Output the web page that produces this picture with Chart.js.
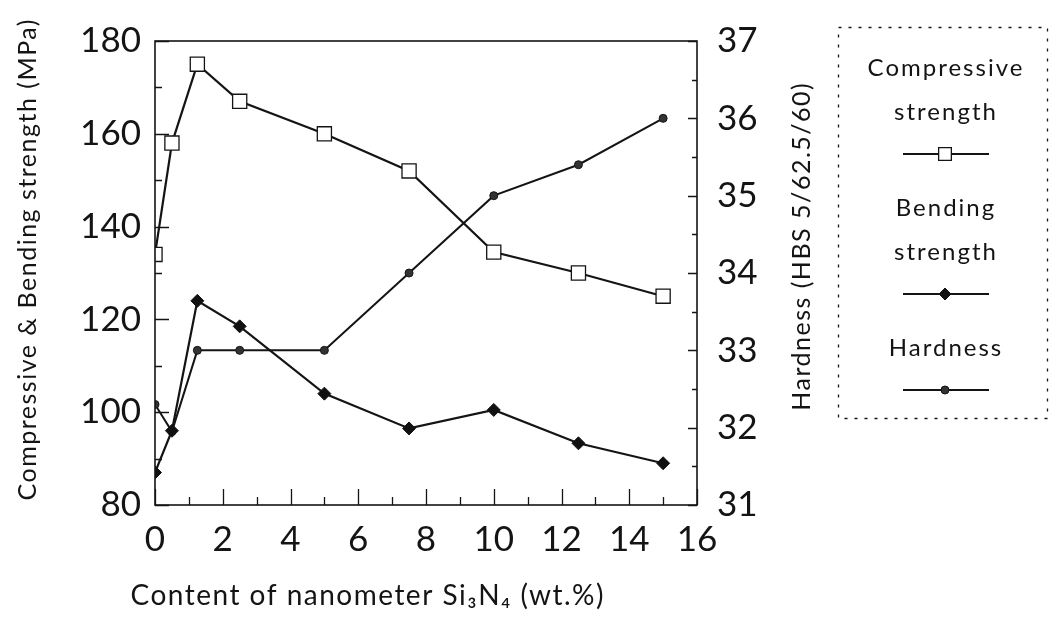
<!DOCTYPE html>
<html>
<head>
<meta charset="utf-8">
<script src="https://cdn.jsdelivr.net/npm/chart.js@4.4.0/dist/chart.umd.min.js"></script>
<style>
  html, body { margin: 0; padding: 0; background: #fff; }
  #wrap { width: 1050px; height: 628px; }
</style>
</head>
<body>
<div id="wrap"><canvas id="chart" width="1050" height="628"></canvas></div>
<script>
// Si3N4 content (wt.%) and measured properties
const contents = [0, 0.5, 1.25, 2.5, 5, 7.5, 10, 12.5, 15];
const compressive = [134, 158, 175, 167, 160, 152, 134.5, 130, 125];
const bending = [87, 96, 124, 118.5, 104, 96.5, 100.5, 93.3, 89];
const hardness = [32.3, 31.95, 33, 33, 33, 34, 35, 35.4, 36];

// labelled ticks; the others are drawn as minor ticks
const strengthLabels = [80, 100, 120, 140, 160, 180];
const hardnessLabels = [31, 32, 33, 34, 35, 36, 37];
const contentLabels = [0, 2, 4, 6, 8, 10, 12, 14, 16];

const seriesNames = ['Compressive strength', 'Bending strength', 'Hardness'];

const INK = '#141414';
const FONT = 'Lato, "Open Sans", sans-serif';

function points(ys) {
  return contents.map((x, i) => ({ x, y: ys[i] }));
}

function labelIf(list) {
  return (v) => (list.includes(v) ? String(v) : '');
}

function spacedText(ctx, text, x, y, spacing) {
  ctx.letterSpacing = spacing + 'px';
  // trailing spacing shifts centred text, take it back
  ctx.fillText(text, x + spacing / 2, y);
  ctx.letterSpacing = '0px';
}

// frame, inward ticks, axis titles and the dashed legend box
const decorations = {
  id: 'decorations',
  afterDraw(chart) {
    const ctx = chart.ctx;
    const a = chart.chartArea;
    const sx = chart.scales.x, sy = chart.scales.y, sy1 = chart.scales.y1;
    const midY = (a.top + a.bottom) / 2;
    ctx.save();
    ctx.strokeStyle = INK;
    ctx.lineWidth = 1.6;
    ctx.strokeRect(a.left, a.top, a.right - a.left, a.bottom - a.top);

    ctx.lineWidth = 1.3;
    ctx.beginPath();
    sy.ticks.forEach(t => {
      const p = Math.round(sy.getPixelForValue(t.value)) + 0.5;
      const len = strengthLabels.includes(t.value) ? 14 : 7;
      ctx.moveTo(a.left, p); ctx.lineTo(a.left + len, p);
    });
    sy1.ticks.forEach(t => {
      const p = Math.round(sy1.getPixelForValue(t.value)) + 0.5;
      const len = hardnessLabels.includes(t.value) ? 9 : 5;
      ctx.moveTo(a.right, p); ctx.lineTo(a.right - len, p);
    });
    sx.ticks.forEach(t => {
      const p = Math.round(sx.getPixelForValue(t.value)) + 0.5;
      const len = contentLabels.includes(t.value) ? 16 : 8;
      ctx.moveTo(p, a.bottom); ctx.lineTo(p, a.bottom - len);
    });
    ctx.stroke();

    ctx.fillStyle = INK;
    ctx.textAlign = 'center';
    ctx.textBaseline = 'middle';

    // x axis title
    ctx.font = '28px ' + FONT;
    spacedText(ctx, 'Content of nanometer Si\u2083N\u2084 (wt.%)', 367, 596, 1.5);

    // y axis titles, both reading bottom to top
    ctx.font = '25px ' + FONT;
    ctx.save();
    ctx.translate(28, 260);
    ctx.rotate(-Math.PI / 2);
    spacedText(ctx, 'Compressive & Bending strength (MPa)', 0, 0, 1.5);
    ctx.restore();

    ctx.save();
    ctx.translate(802, 247);
    ctx.rotate(-Math.PI / 2);
    spacedText(ctx, 'Hardness (HBS 5/62.5/60)', 0, 0, 1.5);
    ctx.restore();

    // legend
    ctx.save();
    ctx.lineWidth = 1.3;
    ctx.setLineDash([3, 7]);
    ctx.strokeRect(838.5, 27.5, 209, 391);
    ctx.restore();

    const cx = 945;
    let y = 68;
    ctx.font = '24px ' + FONT;
    chart.data.datasets.forEach(ds => {
      ds.label.split(' ').forEach(word => {
        spacedText(ctx, word, cx, y, 2);
        y += 44;
      });
      const ly = y - 2;
      ctx.beginPath();
      ctx.lineWidth = 2;
      ctx.moveTo(cx - 42, ly); ctx.lineTo(cx + 44, ly);
      ctx.stroke();
      ctx.fillStyle = ds.pointBackgroundColor;
      ctx.strokeStyle = ds.pointBorderColor;
      ctx.lineWidth = ds.pointBorderWidth;
      Chart.helpers.drawPoint(ctx, {
        pointStyle: ds.pointStyle,
        radius: ds.legendRadius,
        borderWidth: ds.pointBorderWidth,
        rotation: 0
      }, cx, ly);
      ctx.fillStyle = INK;
      ctx.strokeStyle = INK;
      y += 52;
    });
    ctx.restore();
  }
};

const tickFont = { family: FONT, size: 35 };

new Chart(document.getElementById('chart'), {
  type: 'line',
  data: {
    datasets: [
      {
        label: seriesNames[0],
        data: points(compressive),
        yAxisID: 'y',
        borderColor: INK,
        borderWidth: 2.2,
        pointStyle: 'rect',
        pointRadius: 10,
        legendRadius: 9,
        pointBackgroundColor: '#fff',
        pointBorderColor: INK,
        pointBorderWidth: 1.3
      },
      {
        label: seriesNames[1],
        data: points(bending),
        yAxisID: 'y',
        borderColor: INK,
        borderWidth: 2.2,
        pointStyle: 'rectRot',
        pointRadius: 6.5,
        legendRadius: 6,
        pointBackgroundColor: '#111',
        pointBorderColor: INK,
        pointBorderWidth: 1
      },
      {
        label: seriesNames[2],
        data: points(hardness),
        yAxisID: 'y1',
        borderColor: INK,
        borderWidth: 2,
        pointStyle: 'circle',
        pointRadius: 4,
        legendRadius: 4,
        pointBackgroundColor: '#333',
        pointBorderColor: INK,
        pointBorderWidth: 1
      }
    ]
  },
  options: {
    responsive: false,
    animation: false,
    devicePixelRatio: 1,
    layout: { padding: { top: 32, left: 10, right: 235, bottom: 0 } },
    plugins: {
      legend: { display: false },
      tooltip: { enabled: false }
    },
    scales: {
      x: {
        type: 'linear',
        min: 0,
        max: 16,
        ticks: {
          stepSize: 1,
          autoSkip: false,
          maxRotation: 0,
          padding: 14,
          color: INK,
          font: tickFont,
          callback: labelIf(contentLabels)
        },
        grid: { display: false, drawTicks: false },
        border: { display: false },
        afterFit: (s) => { s.height = 123; }
      },
      y: {
        position: 'left',
        min: 80,
        max: 180,
        ticks: {
          stepSize: 10,
          autoSkip: false,
          padding: 14,
          color: INK,
          font: tickFont,
          callback: labelIf(strengthLabels)
        },
        grid: { display: false, drawTicks: false },
        border: { display: false },
        afterFit: (s) => { s.width = 145; }
      },
      y1: {
        position: 'right',
        min: 31,
        max: 37,
        ticks: {
          stepSize: 0.5,
          autoSkip: false,
          padding: 20,
          color: INK,
          font: tickFont,
          callback: labelIf(hardnessLabels)
        },
        grid: { display: false, drawTicks: false },
        border: { display: false },
        afterFit: (s) => { s.width = 118; }
      }
    }
  },
  plugins: [decorations]
});
</script>
</body>
</html>
